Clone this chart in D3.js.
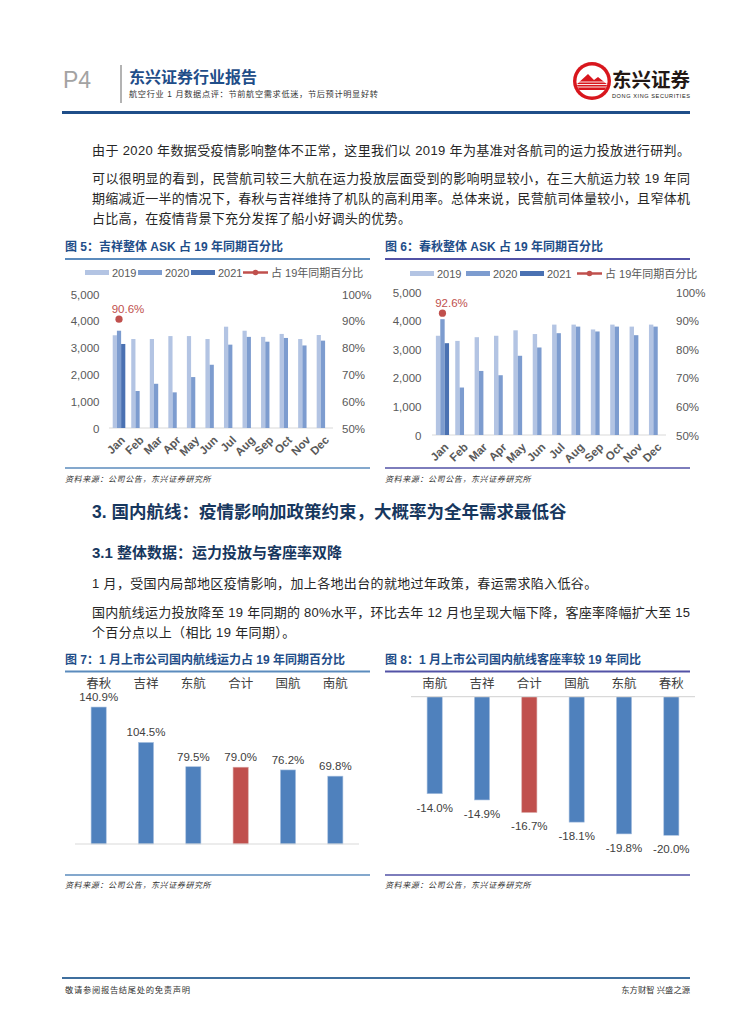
<!DOCTYPE html>
<html>
<head>
<meta charset="utf-8">
<script src="https://cdnjs.cloudflare.com/ajax/libs/d3/7.8.5/d3.min.js"></script>
<style>
	body{margin:0;background:#fff;}
	svg{display:block;}
	text{dominant-baseline:central;}
</style>
</head>
<body>
<div id="page"></div>
<script>
(function(){
	'use strict';

	// ---- data ----
	var months = ["Jan", "Feb", "Mar", "Apr", "May", "Jun", "Jul", "Aug", "Sep", "Oct", "Nov", "Dec"];
	var askTicks = [0, 1000, 2000, 3000, 4000, 5000];
	var pctTicks = [0.5, 0.6, 0.7, 0.8, 0.9, 1.0];
	var askYears = ["2019", "2020", "2021"];
	var ratioName = "占 19年同期百分比";

	// 吉祥 ASK (百万座公里)
	var jxAsk2019 = [3460, 3320, 3320, 3430, 3430, 3320, 3780, 3630, 3400, 3510, 3320, 3470];
	var jxAsk2020 = [3630, 1380, 1650, 1330, 1900, 2360, 3110, 3400, 3220, 3360, 3080, 3260];
	var jxAsk2021 = [3135];
	var jxRatio = [0.906];

	// 春秋 ASK
	var cqAsk2019 = [3470, 3290, 3420, 3470, 3660, 3530, 3860, 3860, 3690, 3860, 3790, 3860];
	var cqAsk2020 = [4050, 1660, 2240, 2090, 2770, 3060, 3560, 3790, 3620, 3790, 3490, 3790];
	var cqAsk2021 = [3210];
	var cqRatio = [0.926];

	// 国内航线运力占19年同期百分比
	var capCats = ["春秋", "吉祥", "东航", "合计", "国航", "南航"];
	var capValues = [140.9, 104.5, 79.5, 79.0, 76.2, 69.8];

	// 国内航线客座率较19年同比
	var loadCats = ["南航", "吉祥", "合计", "国航", "东航", "春秋"];
	var loadValues = [-14.0, -14.9, -16.7, -18.1, -19.8, -20.0];

	var totalName = "合计";

	// ---- page ----
	var FONT = '"Liberation Sans", Arial, "Noto Sans CJK SC", sans-serif';
	var colors = {
		y2019: "#b3c4e3",
		y2020: "#7d9ccf",
		y2021: "#4a71b2",
		red: "#c0504d",
		bar: "#4f81bd",
		axisText: "#595959",
		label: "#404040",
		navy: "#1f4e89",
		ruleA: "#5b8bbd",
		ruleB: "#5252a6"
	};

	// hyphen minus like the report, not U+2212
	var locale = d3.formatLocale({decimal: ".", thousands: ",", grouping: [3], currency: ["", ""], minus: "-"});
	var fmtPct1 = locale.format(".1f");

	var svg = d3.select("#page").append("svg")
		.attr("width", 755)
		.attr("height", 1024)
		.attr("font-family", FONT);

	svg.append("rect").attr("width", 755).attr("height", 1024).attr("fill", "#fff");

	function text(parent, x, y, str, opt){
		opt = opt || {};
		var t = parent.append("text")
			.attr("x", x)
			.attr("y", y)
			.attr("font-size", opt.size || 13)
			.attr("fill", opt.fill || "#262626")
			.attr("text-anchor", opt.anchor || "start")
			.text(str);
		if(opt.weight) t.attr("font-weight", opt.weight);
		if(opt.italic) t.attr("font-style", "italic");
		if(opt.spacing) t.attr("letter-spacing", opt.spacing);
		if(opt.width){
			t.attr("textLength", opt.width).attr("lengthAdjust", "spacing");
		}
		return t;
	}

	function rule(x1, x2, y, color, w){
		svg.append("line")
			.attr("x1", x1).attr("x2", x2)
			.attr("y1", y).attr("y2", y)
			.attr("stroke", color)
			.attr("stroke-width", w);
	}

	// header
	text(svg, 63, 80, "P4", {size: 23, fill: "#a3a3a3"});
	svg.append("line")
		.attr("x1", 121).attr("x2", 121)
		.attr("y1", 65).attr("y2", 103)
		.attr("stroke", "#9a9a9a").attr("stroke-width", 1.5);
	text(svg, 129, 77, "东兴证券行业报告", {size: 16, weight: "bold", fill: colors.navy});
	text(svg, 129, 94, "航空行业 1 月数据点评：节前航空需求低迷，节后预计明显好转", {size: 8.2, fill: "#333", width: 249});

	// logo
	var logo = svg.append("g").attr("transform", "translate(592,81)");
	logo.append("circle").attr("r", 19).attr("fill", "#d8161d");
	logo.append("circle").attr("r", 15.5).attr("fill", "#fff");
	logo.append("clipPath").attr("id", "logoClip")
		.append("circle").attr("r", 15.5);
	var inner = logo.append("g").attr("clip-path", "url(#logoClip)");
	inner.append("path")
		.attr("d", "M-16,4 L-4,-7 L2,-1 L6,-4 L16,4 L16,9 L-16,9 Z")
		.attr("fill", "#d8161d");
	[1, 3.5, 6].forEach(function(d){
		inner.append("line")
			.attr("x1", -16).attr("x2", 16)
			.attr("y1", d).attr("y2", d)
			.attr("stroke", "#fff").attr("stroke-width", 0.9);
	});
	text(svg, 612, 80, "东兴证券", {size: 19.5, weight: "bold", fill: "#231815", width: 78});
	text(svg, 612, 96, "DONG XING SECURITIES", {size: 5.6, fill: "#231815", width: 78});

	rule(62, 690, 112.5, colors.navy, 3);

	// intro paragraphs
	text(svg, 92, 150, "由于 2020 年数据受疫情影响整体不正常，这里我们以 2019 年为基准对各航司的运力投放进行研判。", {width: 598});
	text(svg, 92, 178, "可以很明显的看到，民营航司较三大航在运力投放层面受到的影响明显较小，在三大航运力较 19 年同", {width: 598});
	text(svg, 92, 198, "期缩减近一半的情况下，春秋与吉祥维持了机队的高利用率。总体来说，民营航司体量较小，且窄体机", {width: 598});
	text(svg, 92, 218, "占比高，在疫情背景下充分发挥了船小好调头的优势。", {spacing: 0.3});

	// ---- ASK charts ----
	function askChart(o){
		var g = svg.append("g");

		text(g, o.left, 247, o.title, {size: 12, weight: "bold", fill: colors.navy});
		rule(o.left, o.left + 305, 259, o.rule, 2);

		var x = d3.scaleBand().domain(months).range([o.x0, o.x1]).paddingInner(0.32).paddingOuter(0.2);
		var xs = d3.scaleBand().domain(askYears).range([0, x.bandwidth()]);
		var y = d3.scaleLinear().domain([0, 5000]).range([o.y0, o.y1]);
		var y2 = d3.scaleLinear().domain([0.5, 1]).range([o.y0, o.y1]);

		// legend
		var legendColors = [colors.y2019, colors.y2020, colors.y2021];
		askYears.forEach(function(yr, i){
			g.append("rect")
				.attr("x", o.legend[i]).attr("y", o.legendY - 2.5)
				.attr("width", 24).attr("height", 5)
				.attr("fill", legendColors[i]);
			text(g, o.legend[i] + 27, o.legendY, yr, {size: 11, fill: colors.axisText});
		});
		g.append("line")
			.attr("x1", o.legend[3]).attr("x2", o.legend[3] + 25)
			.attr("y1", o.legendY).attr("y2", o.legendY)
			.attr("stroke", colors.red).attr("stroke-width", 2.5);
		g.append("circle")
			.attr("cx", o.legend[3] + 12.5).attr("cy", o.legendY).attr("r", 2.8)
			.attr("fill", colors.red);
		text(g, o.legend[3] + 28, o.legendY, ratioName, {size: 11, fill: colors.axisText});

		// axes
		var left = g.append("g")
			.attr("transform", "translate(" + o.leftLabel + ",0)")
			.call(d3.axisLeft(y).tickValues(askTicks).tickSize(0).tickPadding(0).tickFormat(d3.format(",")));
		var right = g.append("g")
			.attr("transform", "translate(" + o.rightLabel + ",0)")
			.call(d3.axisRight(y2).tickValues(pctTicks).tickSize(0).tickPadding(0).tickFormat(d3.format(".0%")));
		[left, right].forEach(function(a){
			a.select(".domain").remove();
			a.attr("font-family", null).attr("font-size", null);
			a.selectAll("text")
				.attr("font-size", 11.5)
				.attr("fill", colors.axisText)
				.attr("dy", null);
		});

		g.append("line")
			.attr("x1", o.x0).attr("x2", o.x1)
			.attr("y1", o.y0).attr("y2", o.y0)
			.attr("stroke", "#d9d9d9").attr("stroke-width", 1);

		// bars
		var series = [o.s2019, o.s2020, o.s2021];
		series.forEach(function(vals, si){
			var rows = vals.map(function(v, i){ return {m: months[i], v: v}; });
			g.append("g").selectAll("rect")
				.data(rows)
			.enter().append("rect")
				.attr("x", function(d){ return x(d.m) + xs(askYears[si]); })
				.attr("width", xs.bandwidth())
				.attr("y", function(d){ return y(d.v); })
				.attr("height", function(d){ return y(0) - y(d.v); })
				.attr("fill", legendColors[si]);
		});

		// ratio points
		var pts = o.ratio.map(function(v, i){ return {m: months[i], v: v}; });
		g.selectAll("circle.pt")
			.data(pts)
		.enter().append("circle")
			.attr("class", "pt")
			.attr("cx", function(d){ return x(d.m) + x.bandwidth() / 2; })
			.attr("cy", function(d){ return y2(d.v); })
			.attr("r", 3.6)
			.attr("fill", colors.red);
		pts.forEach(function(d){
			text(g, x(d.m) + x.bandwidth() / 2 + 9, y2(d.v) - 10, d3.format(".1%")(d.v),
				{size: 11.5, fill: colors.red, anchor: "middle"});
		});

		// month labels
		months.forEach(function(m){
			var cx = x(m) + x.bandwidth() / 2;
			g.append("text")
				.attr("transform", "translate(" + (cx + 4) + "," + (o.y0 + 10) + ") rotate(-45)")
				.attr("text-anchor", "end")
				.attr("font-size", 11.5)
				.attr("font-weight", "bold")
				.attr("fill", colors.axisText)
				.text(m);
		});

		rule(o.left, o.left + 305, 468, o.rule, 1.5);
		text(g, o.left, 479, "资料来源：公司公告，东兴证券研究所", {size: 8, italic: true, fill: "#333", spacing: 0.6});
	}

	askChart({
		left: 65, title: "图 5：吉祥整体 ASK 占 19 年同期百分比", rule: colors.ruleA,
		x0: 109, x1: 333, y0: 428, y1: 294, leftLabel: 99.5, rightLabel: 342,
		legendY: 272.5, legend: [85, 138, 191, 243],
		s2019: jxAsk2019, s2020: jxAsk2020, s2021: jxAsk2021, ratio: jxRatio
	});
	askChart({
		left: 385, title: "图 6：春秋整体 ASK 占 19 年同期百分比", rule: colors.ruleB,
		x0: 432, x1: 666, y0: 435, y1: 292, leftLabel: 421.5, rightLabel: 676,
		legendY: 273.5, legend: [410, 466, 520, 577],
		s2019: cqAsk2019, s2020: cqAsk2020, s2021: cqAsk2021, ratio: cqRatio
	});

	// section text
	text(svg, 92, 512, "3. 国内航线：疫情影响加政策约束，大概率为全年需求最低谷", {size: 17.5, weight: "bold", fill: "#17375e"});
	text(svg, 92, 552, "3.1  整体数据：运力投放与客座率双降", {size: 15, weight: "bold", fill: "#17375e"});
	text(svg, 92, 583, "1 月，受国内局部地区疫情影响，加上各地出台的就地过年政策，春运需求陷入低谷。", {spacing: 0.35});
	text(svg, 92, 612, "国内航线运力投放降至 19 年同期的 80%水平，环比去年 12 月也呈现大幅下降，客座率降幅扩大至 15", {width: 598});
	text(svg, 92, 632, "个百分点以上（相比 19 年同期）。", {spacing: 0.35});

	// ---- company bar charts ----
	function barChart(o){
		var g = svg.append("g");

		text(g, o.left, 660, o.title, {size: 12, weight: "bold", fill: colors.navy});
		rule(o.left, o.left + 305, 671.5, o.rule, 2);

		var x = d3.scaleBand().domain(o.cats).range([o.x0, o.x1]).paddingInner(0.68).paddingOuter(0.34);
		var y = d3.scaleLinear().domain(o.domain).range(o.range);

		g.selectAll("rect")
			.data(o.values)
		.enter().append("rect")
			.attr("x", function(d, i){ return x(o.cats[i]); })
			.attr("width", x.bandwidth())
			.attr("y", function(d){ return Math.min(y(d), y(0)); })
			.attr("height", function(d){ return Math.abs(y(d) - y(0)); })
			.attr("fill", function(d, i){ return o.cats[i] === totalName ? colors.red : colors.bar; })
			.attr("stroke", function(d, i){ return o.cats[i] === totalName ? "#d9a3a1" : "#a9c1e0"; })
			.attr("stroke-width", 0.6);

		g.append("line")
			.attr("x1", o.x0).attr("x2", o.x1)
			.attr("y1", y(0)).attr("y2", y(0))
			.attr("stroke", "#d9d9d9").attr("stroke-width", 1.2);

		o.cats.forEach(function(c, i){
			var cx = x(c) + x.bandwidth() / 2;
			text(g, cx, 683.5, c, {size: 12.5, fill: colors.label, anchor: "middle"});
			var v = o.values[i];
			text(g, cx, y(v) + (v < 0 ? 14 : -10), fmtPct1(v) + "%",
				{size: 11.5, fill: colors.label, anchor: "middle"});
		});

		rule(o.left, o.left + 305, 875, o.rule, 1.5);
		text(g, o.left, 885, "资料来源：公司公告，东兴证券研究所", {size: 8, italic: true, fill: "#333", spacing: 0.6});
	}

	barChart({
		left: 65, title: "图 7：1 月上市公司国内航线运力占 19 年同期百分比", rule: colors.ruleA,
		x0: 75, x1: 359, domain: [0, 150], range: [844, 698.2],
		cats: capCats, values: capValues
	});
	barChart({
		left: 385, title: "图 8：1 月上市公司国内航线客座率较 19 年同比", rule: colors.ruleB,
		x0: 411, x1: 695, domain: [-20, 0], range: [835.3, 696.7],
		cats: loadCats, values: loadValues
	});

	// footer
	rule(62, 690, 978, "#3f6f9e", 2);
	text(svg, 65, 990, "敬请参阅报告结尾处的免责声明", {size: 8.3, fill: "#333", width: 125});
	text(svg, 690, 990, "东方财智 兴盛之源", {size: 8.3, fill: "#333", anchor: "end"});
}());
</script>
</body>
</html>
